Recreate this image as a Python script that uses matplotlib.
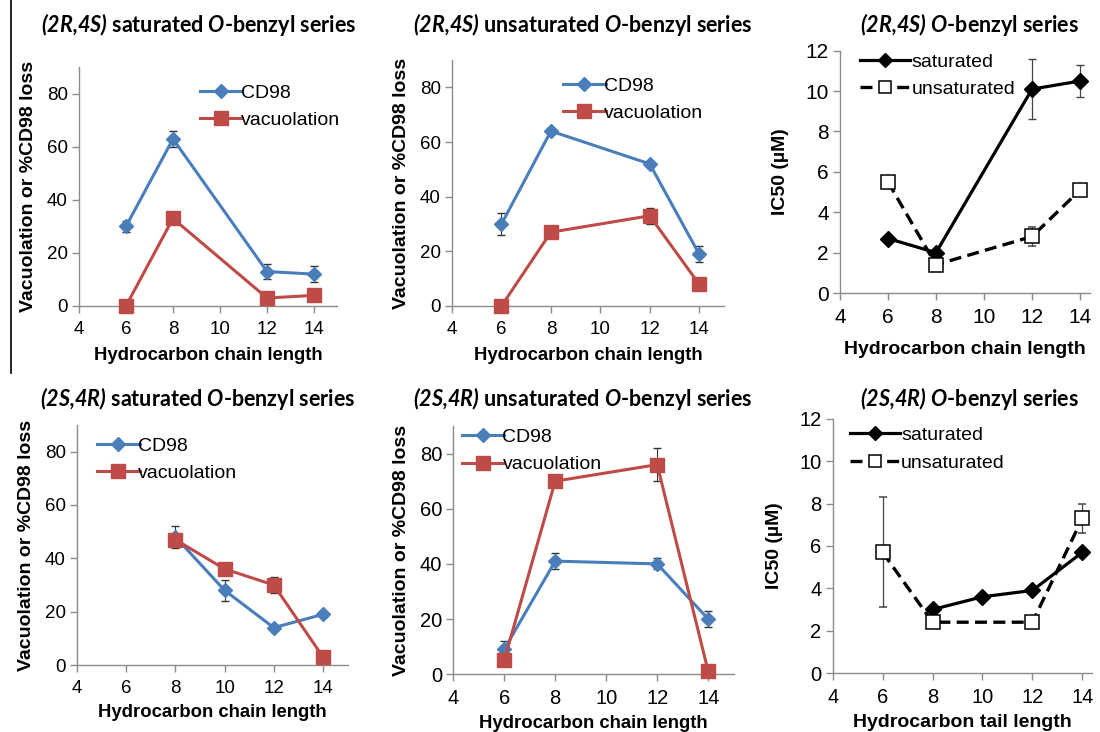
import matplotlib.pyplot as plt
from matplotlib.lines import Line2D

# chain lengths
x_a = [6, 8, 12, 14]
x_b = [8, 10, 12, 14]

# (2R,4S) saturated
r_sat_cd98 = [30, 63, 13, 12]
r_sat_cd98_err = [2, 3, 3, 3]
r_sat_vac = [0, 33, 3, 4]
r_sat_vac_err = [0, 0.5, 0.5, 0.5]

# (2R,4S) unsaturated
r_uns_cd98 = [30, 64, 52, 19]
r_uns_cd98_err = [4, 1, 1, 3]
r_uns_vac = [0, 27, 33, 8]
r_uns_vac_err = [0, 1, 3, 1]

# (2R,4S) IC50
r_ic50_sat = [2.7, 2.0, 10.1, 10.5]
r_ic50_sat_err = [0.1, 0.1, 1.5, 0.8]
r_ic50_uns = [5.5, 1.4, 2.8, 5.1]
r_ic50_uns_err = [0.1, 0.1, 0.45, 0.1]

# (2S,4R) saturated
s_sat_cd98 = [48, 28, 14, 19]
s_sat_cd98_err = [4, 4, 1, 1]
s_sat_vac = [47, 36, 30, 3]
s_sat_vac_err = [1, 1, 3, 0]

# (2S,4R) unsaturated
s_uns_cd98 = [9, 41, 40, 20]
s_uns_cd98_err = [3, 3, 2, 3]
s_uns_vac = [5, 70, 76, 1]
s_uns_vac_err = [0, 1, 6, 0]

# (2S,4R) IC50
s_ic50_sat = [3.0, 3.6, 3.9, 5.7]
s_ic50_sat_err = [0.1, 0.15, 0.1, 0.1]
s_ic50_uns = [5.7, 2.4, 2.4, 7.3]
s_ic50_uns_err = [2.6, 0, 0, 0.7]

BLUE = "#4a7ebb"
RED = "#be4b48"
TICK_FONT = "Liberation Sans"
TITLE_FONT = "Lato"
DASH = (0, (3.6, 1.9))

plt.rcParams["mathtext.fontset"] = "custom"
plt.rcParams["mathtext.bfit"] = "Lato:bold:italic"
plt.rcParams["mathtext.bf"] = "Lato:bold"
plt.rcParams["mathtext.rm"] = "Lato"

fig = plt.figure(figsize=(11, 7.32), dpi=100)


def style_axes(ax, xlim, ylim, yticks, ylabel, xlabel, tsize, ysize, xsize, ypad, xpad):
    ax.set_xlim(*xlim)
    ax.set_ylim(*ylim)
    ax.set_xticks([4, 6, 8, 10, 12, 14])
    ax.set_yticks(yticks)
    for side in ["top", "right"]:
        ax.spines[side].set_visible(False)
    for side in ["left", "bottom"]:
        ax.spines[side].set_color("#8c8c8c")
        ax.spines[side].set_linewidth(1)
    ax.tick_params(direction="out", color="#8c8c8c", length=5, width=1,
                   labelsize=tsize, pad=3)
    ax.tick_params(axis="x", pad=6)
    for lab in ax.get_xticklabels() + ax.get_yticklabels():
        lab.set_fontfamily(TICK_FONT)
    ax.set_ylabel(ylabel, fontsize=ysize, fontweight="bold", family=TICK_FONT, labelpad=ypad)
    ax.set_xlabel(xlabel, fontsize=xsize, fontweight="bold", family=TICK_FONT, labelpad=xpad)


def pct_panel(rect, x1, cd98, cd98_err, x2, vac, vac_err, legend_anchor,
              tsize=13.5, xpad=6):
    ax = fig.add_axes(rect)
    ax.errorbar(x1, cd98, yerr=cd98_err, color=BLUE, lw=2.2, marker="D",
                markersize=7.5, ecolor="#333333", elinewidth=0.8, capsize=3,
                clip_on=False, zorder=3)
    ax.errorbar(x2, vac, yerr=vac_err, color=RED, lw=2.2, marker="s",
                markersize=10.5, ecolor="#333333", elinewidth=0.8, capsize=3,
                clip_on=False, zorder=4)
    style_axes(ax, (4, 15), (0, 90), [0, 20, 40, 60, 80],
               "Vacuolation or %CD98 loss", "Hydrocarbon chain length",
               tsize, 14, 13.3, 7, xpad)
    handles = [
        Line2D([], [], color=BLUE, lw=2.2, marker="D", markersize=7.5, label="CD98"),
        Line2D([], [], color=RED, lw=2.2, marker="s", markersize=10.5, label="vacuolation"),
    ]
    ax.legend(handles=handles, loc="upper left", bbox_to_anchor=legend_anchor,
              frameon=False, prop={"family": TICK_FONT, "size": 14},
              handlelength=2.2, handletextpad=-0.1, borderpad=0, borderaxespad=0,
              labelspacing=0.5)
    return ax


def ic50_panel(rect, xs_sat, sat, sat_err, xs_uns, uns, uns_err, legend_anchor,
               xlabel, tsize=15, xpad=8):
    ax = fig.add_axes(rect)
    ax.errorbar(xs_sat, sat, yerr=sat_err, color="black", lw=2.3, marker="D",
                markersize=8, ecolor="#444444", elinewidth=0.9, capsize=3,
                clip_on=False, zorder=3)
    ax.errorbar(xs_uns, uns, yerr=uns_err, color="black", lw=2.4, ls=DASH,
                marker="s", markersize=9.5, markerfacecolor="white",
                markeredgecolor="black", markeredgewidth=1.1,
                ecolor="#444444", elinewidth=0.9, capsize=3,
                clip_on=False, zorder=4)
    style_axes(ax, (4, 14.4), (0, 12), [0, 2, 4, 6, 8, 10, 12],
               "IC50 (µM)", xlabel, tsize, 14, 14, 12, xpad)
    handles = [
        Line2D([], [], color="black", lw=2.3, marker="D", markersize=7, label="saturated"),
        Line2D([], [], color="black", lw=2.4, ls=DASH, marker="s", markersize=9,
               markerfacecolor="white", markeredgecolor="black",
               markeredgewidth=1.1, label="unsaturated"),
    ]
    ax.legend(handles=handles, loc="upper left", bbox_to_anchor=legend_anchor,
              frameon=False, prop={"family": TICK_FONT, "size": 14},
              handlelength=2.6, handletextpad=0.05, borderpad=0, borderaxespad=0,
              labelspacing=0.5)
    return ax


pct_panel([0.0718, 0.582, 0.235, 0.326], x_a, r_sat_cd98, r_sat_cd98_err,
          x_a, r_sat_vac, r_sat_vac_err, (0.467, 0.93))
pct_panel([0.411, 0.582, 0.247, 0.336], x_a, r_uns_cd98, r_uns_cd98_err,
          x_a, r_uns_vac, r_uns_vac_err, (0.408, 0.93))
ic50_panel([0.7636, 0.5997, 0.227, 0.331], x_a, r_ic50_sat, r_ic50_sat_err,
           x_a, r_ic50_uns, r_ic50_uns_err, (0.08, 0.99), "Hydrocarbon chain length",
           xpad=10)
pct_panel([0.070, 0.0915, 0.246, 0.328], x_b, s_sat_cd98, s_sat_cd98_err,
          x_b, s_sat_vac, s_sat_vac_err, (0.074, 0.95), xpad=5)
pct_panel([0.412, 0.079, 0.255, 0.339], x_a, s_uns_cd98, s_uns_cd98_err,
          x_a, s_uns_vac, s_uns_vac_err, (0.03, 0.99), tsize=14.5, xpad=5)
ic50_panel([0.757, 0.0806, 0.236, 0.347], x_b, s_ic50_sat, s_ic50_sat_err,
           x_a, s_ic50_uns, s_ic50_uns_err, (0.065, 0.97), "Hydrocarbon tail length",
           tsize=14.5, xpad=5)

# panel titles
titles = [
    (199, 25, r"$\mathbfit{(2R{,}4S)}$ saturated $\mathbfit{O}$-benzyl series"),
    (583, 25, r"$\mathbfit{(2R{,}4S)}$ unsaturated $\mathbfit{O}$-benzyl series"),
    (970, 25, r"$\mathbfit{(2R{,}4S)}$ $\mathbfit{O}$-benzyl series"),
    (198, 398, r"$\mathbfit{(2S{,}4R)}$ saturated $\mathbfit{O}$-benzyl series"),
    (583, 398, r"$\mathbfit{(2S{,}4R)}$ unsaturated $\mathbfit{O}$-benzyl series"),
    (970, 398, r"$\mathbfit{(2S{,}4R)}$ $\mathbfit{O}$-benzyl series"),
]
for px, py, t in titles:
    fig.text(px / 1100, 1 - py / 732, t, ha="center", va="center",
             fontsize=15.5, fontweight="bold", family=TITLE_FONT)

# thin separator line at left of the top row
fig.add_artist(Line2D([11 / 1100, 11 / 1100], [1.0, 1 - 373 / 732],
                      color="black", lw=1.2))

fig.savefig("out.png", dpi=100)
